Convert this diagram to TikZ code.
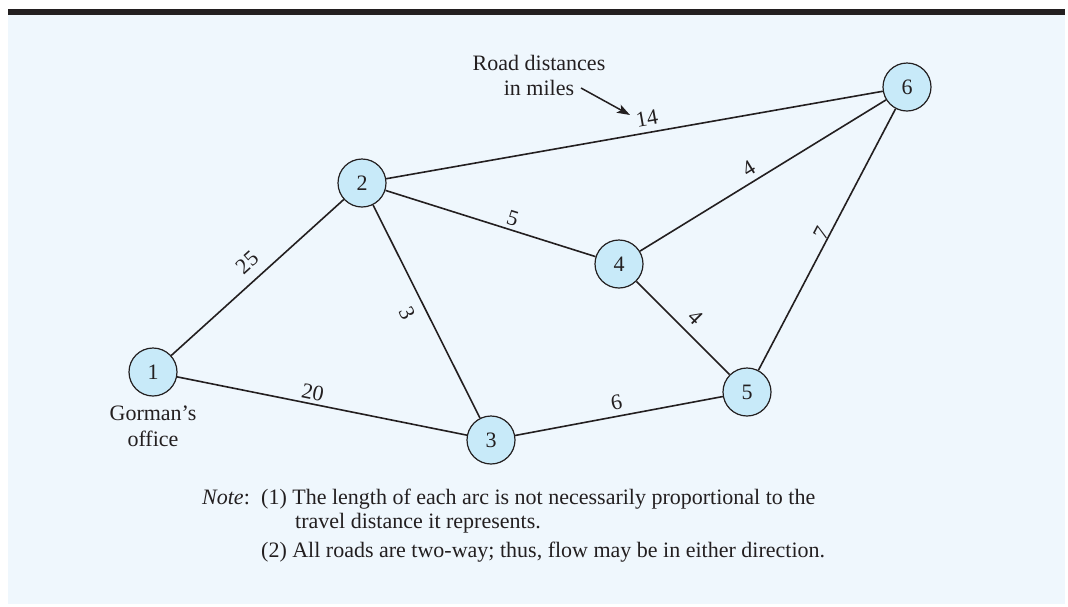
\documentclass[tikz,border=0pt]{standalone}
\usepackage{fontspec}
\setmainfont{Liberation Serif}
\usetikzlibrary{arrows.meta}
\definecolor{bgblue}{RGB}{239,247,253}
\definecolor{nodeblue}{RGB}{200,234,249}
\definecolor{ink}{RGB}{35,31,32}
\begin{document}
\begin{tikzpicture}[x=1pt,y=-1pt,
  vertex/.style={circle,draw=ink,fill=nodeblue,line width=1.2pt,minimum size=48pt,inner sep=0pt,font=\fontsize{22}{26}\selectfont,text=ink},
  roadline/.style={draw=ink,line width=1.6pt},
  elab/.style={sloped,inner sep=0pt,font=\fontsize{22}{26}\selectfont,text=ink},
  txt/.style={inner sep=0pt,font=\fontsize{22}{26}\selectfont,text=ink}]
\useasboundingbox (0,0) rectangle (1068,606);
\fill[bgblue] (8,9) rectangle (1065,604);
\fill[ink] (8,9) rectangle (1065,15);
% vertices
\node[vertex] (n1) at (153,372) {1};
\node[vertex] (n2) at (362,183) {2};
\node[vertex] (n3) at (491,440) {3};
\node[vertex] (n4) at (619,264) {4};
\node[vertex] (n5) at (747,392) {5};
\node[vertex] (n6) at (907,87) {6};
% roads
\draw[roadline] (n1) -- node[elab,pos=0.51,above=10pt] {25} (n2);
\draw[roadline] (n1) -- node[elab,pos=0.46,above=3.5pt] {20} (n3);
\draw[roadline] (n2) -- node[elab,pos=0.47,below=9.5pt] {3} (n3);
\draw[roadline] (n2) -- node[elab,pos=0.59,above=3pt] (l5) {5} (n4);
\draw[roadline] (n2) -- node[elab,pos=0.53,above=6.5pt] (l14) {14} (n6);
\draw[roadline] (n4) -- node[elab,pos=0.47,above=5.4pt] {4} (n6);
\draw[roadline] (n5) -- node[elab,pos=0.51,above=0pt] {7} (n6);
\draw[roadline] (n4) -- node[elab,pos=0.51,above=8.3pt] {4} (n5);
\draw[roadline] (n3) -- node[elab,pos=0.5,above=6pt] {6} (n5);
% texts
\node[txt,align=center] (gorman) at (153,426) {Gorman’s\\office};
\node[txt,align=center,font=\fontsize{22}{25}\selectfont] (road) at (539,75) {Road distances\\in miles};
\coordinate (arrS) at (581,88);
\coordinate (arrE) at (630,115);
\draw[ink,line width=1.5pt,-{Stealth[length=13pt,width=9pt,inset=3pt]}] (arrS) -- (arrE);
% note
\node[txt,anchor=base west] (notelbl) at (202,504) {\textit{Note}:};
\node[txt,anchor=base west] (note1a) at (261,504) {(1) The length of each arc is not necessarily proportional to the};
\node[txt,anchor=base west] (note1b) at (295,528) {travel distance it represents.};
\node[txt,anchor=base west] (note2) at (261,557) {(2) All roads are two-way; thus, flow may be in either direction.};
\end{tikzpicture}
\end{document}
